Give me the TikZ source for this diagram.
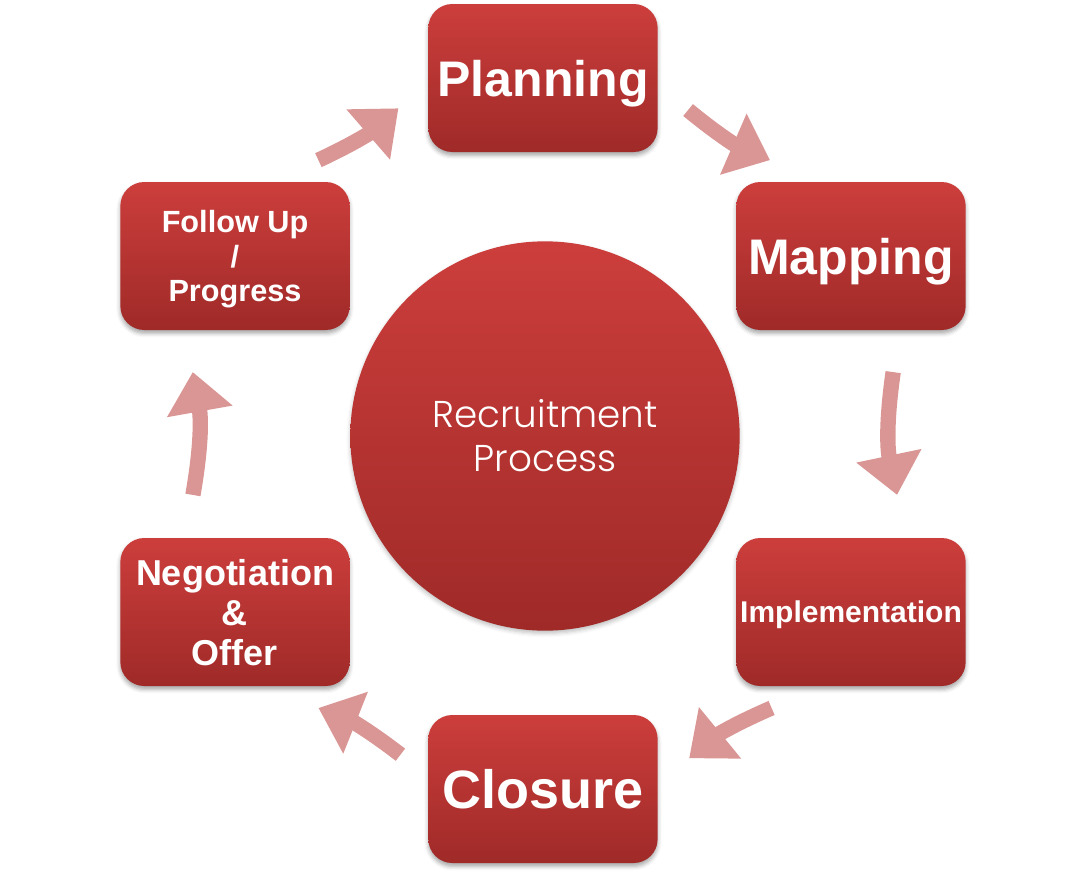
\documentclass[tikz,border=0pt]{standalone}
\usepackage{fontspec}
\setmainfont{Liberation Sans}
\newfontfamily\lightfont{Poppins Light}
\usetikzlibrary{shapes,arrows.meta,shadows.blur}
\definecolor{boxtop}{HTML}{CC3E3C}
\definecolor{boxbot}{HTML}{9F2A28}
\definecolor{flowpink}{HTML}{D99694}
\tikzset{
  stage/.style={rectangle, rounded corners=18pt, minimum width=172pt, minimum height=111pt,
    inner sep=2pt, text depth=0pt, top color=boxtop, bottom color=boxbot, text=white, align=center,
    blur shadow={shadow xshift=0pt, shadow yshift=-2.5pt, shadow blur radius=3pt, shadow opacity=35}},
  flow/.style={draw=flowpink, line width=11.5pt, -{Triangle[length=30pt, width=48pt]}}
}

\begin{document}
\begin{tikzpicture}[x=0.75pt,y=0.75pt]
\useasboundingbox (-545,-440) rectangle (542,436);
% centre
\node[circle, minimum size=292pt, inner sep=0pt, top color=boxtop, bottom color=boxbot,
  blur shadow={shadow xshift=0pt, shadow yshift=-2pt, shadow blur radius=3pt, shadow opacity=25},
  text=white, align=center, font=\lightfont\fontsize{28pt}{33pt}\selectfont] (core) at (0,0) {Recruitment\\Process};
% stages
\node[stage, font=\bfseries\fontsize{37.5pt}{41pt}\selectfont] (plan) at (-2,358) {Planning};
\node[stage, font=\bfseries\fontsize{37.5pt}{41pt}\selectfont] (map) at (306,180) {Mapping};
\node[stage, font=\bfseries\fontsize{22.5pt}{25pt}\selectfont] (impl) at (306,-176) {Implementation};
\node[stage, font=\bfseries\fontsize{40.5pt}{44pt}\selectfont] (close) at (-2,-353) {Closure};
\node[stage, font=\bfseries\fontsize{27pt}{30pt}\selectfont] (nego) at (-310,-176) {Negotiation\\\&\\Offer};
\node[stage, font=\bfseries\fontsize{23pt}{26pt}\selectfont] (follow) at (-310,180) {Follow Up\\/\\Progress};
% arrows
\coordinate (a1) at (129.4:357);  \coordinate (b1) at (114.1:359);
\coordinate (a2) at (66.3:356);   \coordinate (b2) at (50.8:356);
\coordinate (a3) at (10.4:354);   \coordinate (b3) at (-9.5:357);
\coordinate (a4) at (-50.2:354);  \coordinate (b4) at (-65.9:353);
\coordinate (a5) at (-114.4:350); \coordinate (b5) at (-129.8:354);
\coordinate (a6) at (189.5:357);  \coordinate (b6) at (169.7:358);
\draw[flow] (a1) to[bend right=8] (b1);
\draw[flow] (a2) to[bend right=8] (b2);
\draw[flow] (a3) to[bend right=10] (b3);
\draw[flow] (a4) to[bend right=8] (b4);
\draw[flow] (a5) to[bend right=8] (b5);
\draw[flow] (a6) to[bend right=10] (b6);
\end{tikzpicture}
\end{document}
